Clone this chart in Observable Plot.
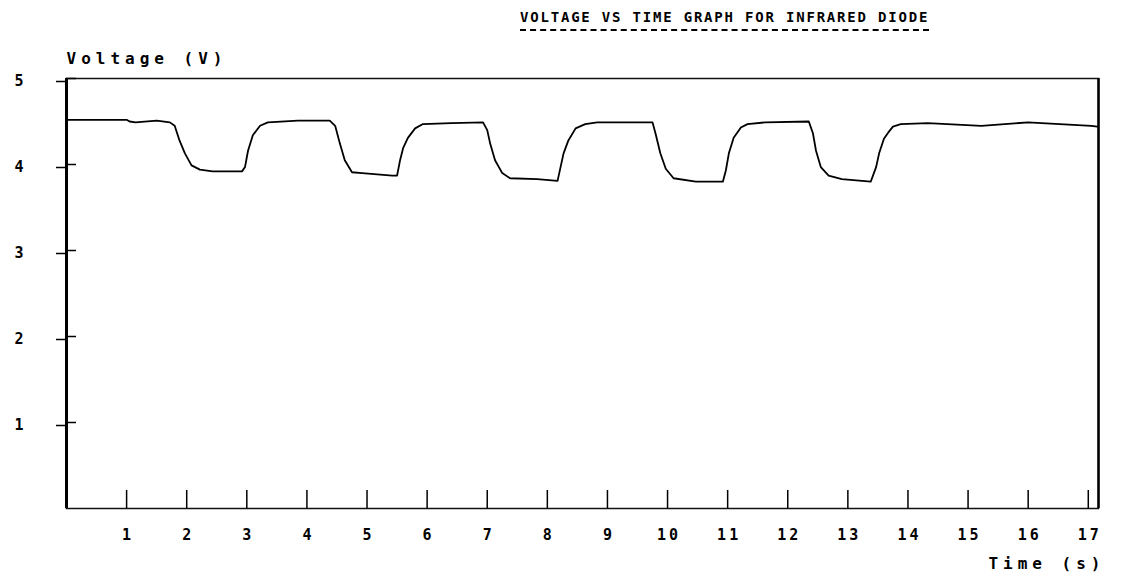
<!DOCTYPE html>
<html><head><meta charset="utf-8">
<script src="https://cdn.jsdelivr.net/npm/d3@7"></script>
<script src="https://cdn.jsdelivr.net/npm/@observablehq/plot@0.6"></script>
<style>
body{margin:0;background:#fff;}
#title{position:relative;height:40px;width:1125px;font-family:"DejaVu Sans Mono",monospace;font-weight:bold;font-size:14px;color:#000;}
#title span{position:absolute;left:520px;top:9px;letter-spacing:1.8px;border-bottom:2px dashed #000;padding-bottom:4px;white-space:nowrap;}
</style></head><body>
<div id="title"><span></span></div>
<div id="chart"></div>
<script>
const title = "VOLTAGE VS TIME GRAPH FOR INFRARED DIODE";
const yLabel = "Voltage (V)";
const xLabel = "Time (s)";
const xTicks = [1,2,3,4,5,6,7,8,9,10,11,12,13,14,15,16,17];
const yTicks = [1,2,3,4,5];
const xDomain = [0, 17.17];
const yDomain = [0, 5];
const time = [0,0.5,1.0,1.05,1.15,1.5,1.72,1.8,1.88,1.97,2.08,2.22,2.43,2.92,2.97,3.02,3.1,3.22,3.35,3.85,4.38,4.47,4.55,4.63,4.75,4.92,5.42,5.5,5.55,5.6,5.68,5.8,5.93,6.4,6.93,7.0,7.05,7.13,7.25,7.38,7.83,8.17,8.22,8.27,8.35,8.47,8.63,8.83,9.75,9.8,9.88,9.97,10.1,10.47,10.92,10.97,11.02,11.1,11.22,11.33,11.63,12.35,12.42,12.47,12.55,12.68,12.9,13.38,13.47,13.52,13.6,13.67,13.75,13.88,14.33,15.22,16.0,17.05,17.15];
const voltage = [4.52,4.52,4.52,4.50,4.49,4.51,4.49,4.45,4.28,4.13,3.99,3.94,3.92,3.92,3.97,4.16,4.34,4.45,4.49,4.51,4.51,4.45,4.24,4.05,3.91,3.90,3.87,3.87,4.05,4.19,4.31,4.42,4.47,4.48,4.49,4.40,4.24,4.05,3.90,3.84,3.83,3.81,3.97,4.13,4.28,4.42,4.47,4.49,4.49,4.36,4.13,3.95,3.84,3.80,3.80,3.93,4.13,4.31,4.43,4.47,4.49,4.50,4.36,4.16,3.97,3.87,3.83,3.80,3.97,4.13,4.30,4.37,4.44,4.47,4.48,4.45,4.49,4.45,4.44];

document.querySelector("#title span").textContent = title;
const data = time.map((t, i) => ({t, v: voltage[i]}));

const chart = Plot.plot({
  width: 1125, height: 538,
  marginTop: 38, marginBottom: 70, marginLeft: 66, marginRight: 27,
  style: {fontFamily: '"DejaVu Sans Mono", monospace', fontWeight: "bold", fontSize: "15px", color: "#000", background: "#fff"},
  x: {domain: xDomain},
  y: {domain: yDomain},
  marks: [
    Plot.frame({stroke: "#111", strokeWidth: 1.5}),
    Plot.ruleX([xDomain[0]], {stroke: "#000", strokeWidth: 3}),
    Plot.ruleX([xDomain[1]], {stroke: "#000", strokeWidth: 2.5}),
    Plot.axisX({ticks: xTicks, tickSize: -18, tickFormat: () => "", label: null, strokeWidth: 1.5}),
    Plot.axisX({ticks: xTicks, tickSize: 0, tickPadding: 21, tickFormat: d => String(d), label: null, dx: 1.5, fontSize: 15}),
    Plot.axisY({ticks: yTicks, tickSize: 10, tickPadding: 33, tickFormat: d => String(d), label: null, strokeWidth: 1.5, dy: 3, fontSize: 15}),
    Plot.axisY({ticks: yTicks, tickSize: -10, tickFormat: () => "", label: null, strokeWidth: 1.5}),
    Plot.line(data, {x: "t", y: "v", stroke: "#000", strokeWidth: 1.8}),
    Plot.text([yLabel], {frameAnchor: "top-left", dy: -26, textAnchor: "start", fontSize: 16, fontWeight: "bold"}),
    Plot.text([xLabel], {frameAnchor: "bottom-right", dy: 60, dx: 7, textAnchor: "end", fontSize: 16, fontWeight: "bold"})
  ]
});
document.getElementById("chart").appendChild(chart);
d3.select(chart).selectAll('g[aria-label="text"] text').style("letter-spacing", "5px");
d3.select(chart).selectAll('g[aria-label="x-axis tick label"] text').style("letter-spacing", "3px");
</script>
</body></html>
